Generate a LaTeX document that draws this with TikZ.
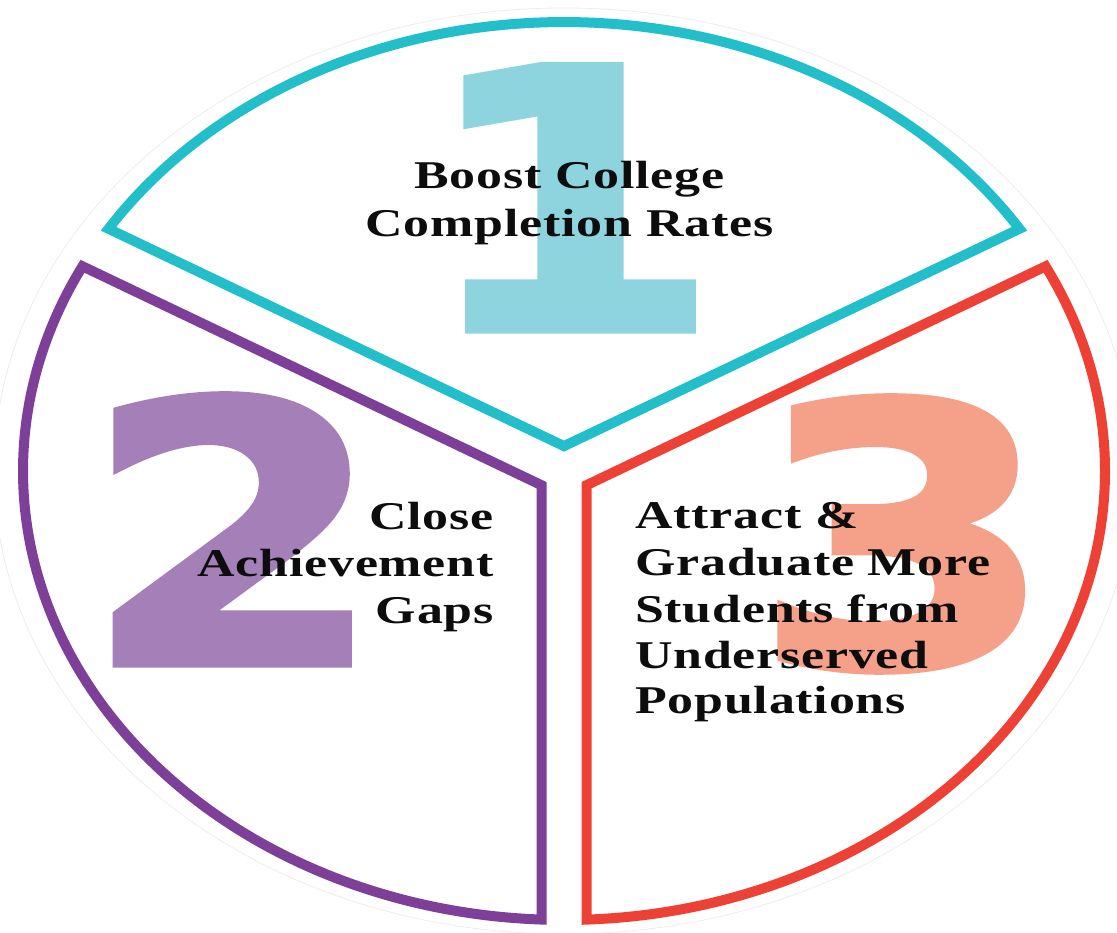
\documentclass[tikz,border=0pt]{standalone}
\usepackage{fontspec}
\usepackage{graphicx}
\setmainfont{Liberation Serif}
\newfontfamily\labelfont{Liberation Serif}[FakeStretch=1.32, LetterSpace=2]
\newfontfamily\numfont{DejaVu Sans}[FakeBold=2]

\definecolor{tealline}{HTML}{22BFCB}
\definecolor{tealnum}{HTML}{8DD4DE}
\definecolor{purpleline}{HTML}{7D3F98}
\definecolor{purplenum}{HTML}{A47FB8}
\definecolor{redline}{HTML}{EE4136}
\definecolor{salmonnum}{HTML}{F5A088}
\definecolor{labeltext}{HTML}{0D0D0D}

\begin{document}
\begin{tikzpicture}[x=0.75pt, y=0.75pt,
  seg/.style={line width=7.5pt, line join=miter},
  bignum/.style={inner sep=0pt, anchor=base, font=\numfont\bfseries\fontsize{272}{272}\selectfont},
  lbl/.style={inner sep=0pt, text=labeltext, font=\labelfont\bfseries\fontsize{29.5}{36}\selectfont}]
\useasboundingbox (-564,-461) rectangle (553,471);

% faint outer rim of the disc
\draw[gray!15, line width=0.6pt] (0,0) ellipse [x radius=570, y radius=463];

% big numerals behind the labels
\node[bignum, text=tealnum] (n1) at (6,141) {\scalebox{1.2}[1]{1}};
\node[bignum, text=purplenum] (n2) at (-330,-193) {\scalebox{1.2}[1]{2}};
\node[bignum, text=salmonnum] (n3) at (340,-195) {\scalebox{1.2}[1]{3}};

% segment 1 (top)
\coordinate (v1) at (0,24.9);
\coordinate (c1) at (455.5,242.2);
\draw[seg, tealline] (v1) -- (c1)
  arc[start angle=32.65, end angle=147.35, x radius=541, y radius=449] -- cycle;

% segment 2 (left)
\coordinate (v2) at (-22.5,-14.2);
\coordinate (c2) at (-481.5,204.7);
\draw[seg, purpleline] (v2) -- (c2)
  arc[start angle=152.88, end angle=267.62, x radius=541, y radius=449] -- cycle;

% segment 3 (right)
\coordinate (v3) at (22.5,-14.2);
\coordinate (c3) at (22.5,-448.6);
\draw[seg, redline] (v3) -- (c3)
  arc[start angle=-87.62, end angle=27.12, x radius=541, y radius=449] -- cycle;

% labels
\node[lbl, anchor=base] (t1a) at (5.5,282) {Boost College};
\node[lbl, anchor=base] (t1b) at (5.5,234) {Completion Rates};

\node[lbl, anchor=base east] (t2a) at (-70,-58) {Close};
\node[lbl, anchor=base east] (t2b) at (-70,-105) {Achievement};
\node[lbl, anchor=base east] (t2c) at (-70,-152) {Gaps};

\node[lbl, anchor=base west] (t3a) at (71,-57) {Attract \&};
\node[lbl, anchor=base west] (t3b) at (71,-104) {Graduate More};
\node[lbl, anchor=base west] (t3c) at (71,-151) {Students from};
\node[lbl, anchor=base west] (t3d) at (71,-197) {Underserved};
\node[lbl, anchor=base west] (t3e) at (71,-242) {Populations};
\end{tikzpicture}
\end{document}
